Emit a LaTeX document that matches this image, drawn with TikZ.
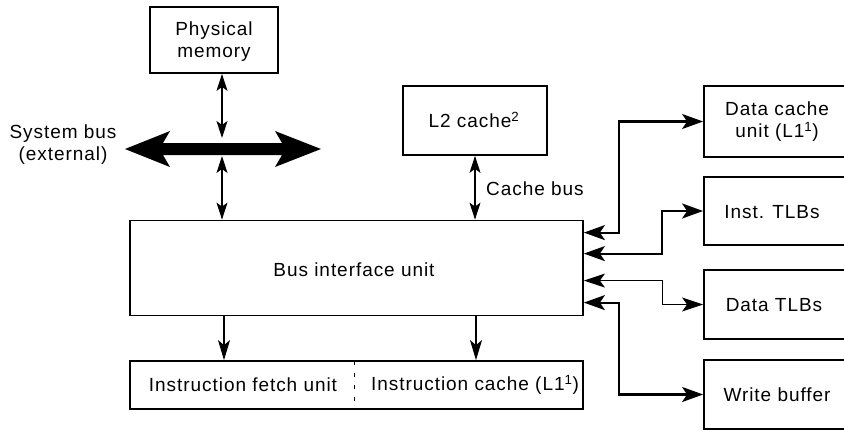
\documentclass[tikz,border=0pt]{standalone}
\usepackage{fontspec}
\setmainfont{Liberation Sans}[LetterSpace=5]
\usetikzlibrary{arrows.meta,calc}
\tikzset{
  box/.style={draw, line width=1.8pt, inner sep=0pt},
  lbl/.style={font=\fontsize{19}{22}\selectfont, align=center, inner sep=0pt},
  thinarrow/.style={line width=1.1pt, {Stealth[length=17pt,width=11pt,inset=4pt]}-{Stealth[length=17pt,width=11pt,inset=4pt]}},
  downarrow/.style={line width=1.1pt, -{Stealth[length=20pt,width=12pt,inset=5pt]}},
  thickconn/.style={line width=2.2pt, {Stealth[length=21pt,width=15pt,inset=5pt]}-{Stealth[length=21pt,width=15pt,inset=5pt]}},
  thinconn/.style={line width=1.1pt, {Stealth[length=21pt,width=14pt,inset=5pt]}-{Stealth[length=21pt,width=14pt,inset=5pt]}},
}
\begin{document}
\begin{tikzpicture}[x=1pt,y=-1pt]
\useasboundingbox (0,0) rectangle (844,431);
\clip (0,0) rectangle (844,431);
% boxes
\node[box, minimum width=128pt, minimum height=66pt] (pm) at (214,40) {};
\node[lbl] (pmt) at (214,42) {Physical\\memory};
\node[box, minimum width=144pt, minimum height=69pt] (l2) at (475,120.5) {};
\node[lbl] (l2t) at (474,120) {L2 cache\textsuperscript{2}};
\node[box, minimum width=453pt, minimum height=95pt] (biu) at (356.5,268) {};
\node[lbl] (biut) at (354,270) {Bus interface unit};
\node[box, minimum width=453pt, minimum height=48pt] (ifu) at (356.5,385) {};
\node[lbl] (ifut) at (243,385) {Instruction fetch unit};
\node[lbl] (ict) at (475,385) {Instruction cache (L1\textsuperscript{1})};
\draw[line width=0.8pt, dash pattern=on 4pt off 8pt] (354,361) -- (354,409);
\node[box, minimum width=142pt, minimum height=71pt] (dcu) at (775,121.5) {};
\node[lbl] (dcut) at (777,122) {Data cache\\unit (L1\textsuperscript{1})};
\node[box, minimum width=142pt, minimum height=68pt] (itlb) at (775,211) {};
\node[lbl] (itlbt) at (772,212) {Inst. TLBs};
\node[box, minimum width=142pt, minimum height=69pt] (dtlb) at (775,304.5) {};
\node[lbl] (dtlbt) at (774,305) {Data TLBs};
\node[box, minimum width=142pt, minimum height=69pt] (wb) at (775,394.5) {};
\node[lbl] (wbt) at (777,395) {Write buffer};
% labels
\node[lbl, anchor=west] (cbus) at (486,189) {Cache bus};
\node[lbl] (sbus) at (63,145) {System bus\\(external)};
% system bus thick double arrow
\fill (125,149) -- (170,131) -- (163,143) -- (282,143) -- (275,131) -- (321,149)
  -- (275,167) -- (282,155) -- (163,155) -- (170,167) -- cycle;
\coordinate (bustop) at (222,138);
\coordinate (busbot) at (222,156);
\draw[thinarrow] (bustop |- pm.south) -- (bustop);
\draw[thinarrow] (busbot) -- (busbot |- biu.north);
\draw[thinarrow] (l2.south) -- (l2.south |- biu.north);
\draw[downarrow] ([xshift=-132.5pt]biu.south) -- ([xshift=-132.5pt]ifu.north);
\draw[downarrow] ([xshift=119.5pt]biu.south) -- ([xshift=119.5pt]ifu.north);
% right connectors
\draw[thickconn] ([yshift=-13pt]biu.north east) -| ([xshift=-84pt]dcu.west) -- (dcu.west);
\draw[thickconn] ([yshift=-34pt]biu.north east) -| ([xshift=-41pt]itlb.west) -- (itlb.west);
\draw[thinconn] ([yshift=-61pt]biu.north east) -| ([xshift=-41pt]dtlb.west) -- (dtlb.west);
\draw[thickconn] ([yshift=-83pt]biu.north east) -| ([xshift=-84pt]wb.west) -- (wb.west);
\end{tikzpicture}
\end{document}
